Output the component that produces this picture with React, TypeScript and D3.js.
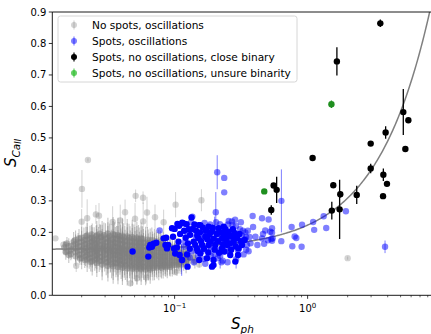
import React from "react";
import * as d3 from "d3";

type P = [number, number, number];

// Gray: no spots, oscillations (dense cloud) [Sph, SCaII, err]
const GRAY_CLOUD: P[] = [
  [0.0148,0.152,0.02],[0.0152,0.138,0.025],[0.0155,0.165,0.02],
  [0.0168,0.146,0.03],[0.0171,0.158,0.025],[0.0166,0.131,0.02],[0.0174,0.171,0.03],
  [0.0186,0.142,0.03],[0.0189,0.155,0.035],[0.0192,0.128,0.025],[0.0188,0.168,0.03],[0.0194,0.117,0.02],[0.0191,0.181,0.03],
  [0.0206,0.149,0.035],[0.0209,0.136,0.04],[0.0212,0.162,0.03],[0.0214,0.123,0.03],[0.0208,0.175,0.04],[0.0211,0.112,0.025],[0.0215,0.188,0.03],
  [0.0226,0.144,0.04],[0.0229,0.157,0.035],[0.0232,0.131,0.04],[0.0235,0.169,0.03],[0.0228,0.119,0.035],[0.0231,0.181,0.04],[0.0234,0.106,0.03],[0.0237,0.193,0.03],
  [0.0246,0.151,0.04],[0.0249,0.139,0.045],[0.0252,0.163,0.035],[0.0255,0.126,0.04],[0.0248,0.176,0.04],[0.0251,0.113,0.035],[0.0257,0.187,0.035],[0.0254,0.145,0.03],
  [0.0266,0.147,0.045],[0.0269,0.134,0.04],[0.0272,0.159,0.04],[0.0275,0.121,0.04],[0.0268,0.172,0.045],[0.0271,0.109,0.035],[0.0277,0.184,0.04],[0.0274,0.196,0.03],
  [0.0292,0.142,0.05],[0.0296,0.155,0.045],[0.0300,0.129,0.045],[0.0304,0.167,0.04],[0.0298,0.116,0.04],[0.0302,0.179,0.05],[0.0306,0.104,0.04],[0.0294,0.191,0.04],[0.0299,0.148,0.03],
  [0.0322,0.138,0.05],[0.0326,0.151,0.045],[0.0330,0.125,0.05],[0.0334,0.163,0.045],[0.0328,0.112,0.04],[0.0332,0.176,0.05],[0.0336,0.099,0.045],[0.0324,0.188,0.04],[0.0331,0.144,0.035],
  [0.0352,0.141,0.05],[0.0356,0.128,0.055],[0.0360,0.154,0.045],[0.0364,0.115,0.05],[0.0358,0.167,0.05],[0.0362,0.102,0.045],[0.0366,0.180,0.04],[0.0354,0.192,0.04],[0.0361,0.134,0.04],
  [0.0382,0.136,0.055],[0.0386,0.149,0.05],[0.0390,0.123,0.05],[0.0394,0.162,0.05],[0.0388,0.110,0.045],[0.0392,0.175,0.05],[0.0396,0.097,0.045],[0.0384,0.187,0.045],[0.0391,0.142,0.04],
  [0.0412,0.132,0.055],[0.0416,0.145,0.05],[0.0420,0.119,0.055],[0.0424,0.158,0.05],[0.0418,0.106,0.05],[0.0422,0.171,0.05],[0.0426,0.094,0.045],[0.0414,0.184,0.045],[0.0421,0.138,0.04],
  [0.0452,0.130,0.055],[0.0456,0.143,0.05],[0.0460,0.117,0.055],[0.0464,0.156,0.05],[0.0458,0.104,0.05],[0.0462,0.169,0.05],[0.0466,0.092,0.045],[0.0454,0.182,0.045],[0.0461,0.124,0.04],
  [0.0492,0.128,0.055],[0.0496,0.141,0.05],[0.0500,0.115,0.055],[0.0504,0.154,0.05],[0.0498,0.102,0.05],[0.0502,0.167,0.05],[0.0506,0.090,0.045],[0.0494,0.180,0.045],[0.0501,0.135,0.04],
  [0.0532,0.126,0.05],[0.0536,0.139,0.05],[0.0540,0.113,0.05],[0.0544,0.152,0.05],[0.0538,0.100,0.045],[0.0542,0.165,0.05],[0.0546,0.088,0.04],[0.0534,0.178,0.045],[0.0541,0.131,0.04],
  [0.0572,0.127,0.05],[0.0576,0.140,0.05],[0.0580,0.114,0.05],[0.0584,0.153,0.045],[0.0578,0.101,0.045],[0.0582,0.166,0.045],[0.0586,0.089,0.04],[0.0574,0.179,0.04],[0.0581,0.121,0.04],
  [0.0622,0.125,0.05],[0.0626,0.138,0.045],[0.0630,0.112,0.05],[0.0634,0.151,0.045],[0.0628,0.099,0.045],[0.0632,0.164,0.045],[0.0636,0.087,0.04],[0.0624,0.177,0.04],[0.0631,0.132,0.035],
  [0.0672,0.124,0.045],[0.0676,0.137,0.045],[0.0680,0.111,0.045],[0.0684,0.150,0.045],[0.0678,0.098,0.04],[0.0682,0.163,0.04],[0.0686,0.087,0.04],[0.0674,0.175,0.04],[0.0681,0.129,0.035],
  [0.0722,0.123,0.045],[0.0726,0.136,0.045],[0.0730,0.110,0.045],[0.0734,0.149,0.04],[0.0728,0.098,0.04],[0.0732,0.161,0.04],[0.0736,0.088,0.035],[0.0724,0.172,0.035],
  [0.0782,0.122,0.045],[0.0786,0.135,0.04],[0.0790,0.109,0.04],[0.0794,0.147,0.04],[0.0788,0.097,0.04],[0.0792,0.159,0.035],[0.0796,0.088,0.035],[0.0784,0.170,0.035],
  [0.0842,0.121,0.04],[0.0846,0.134,0.04],[0.0850,0.108,0.04],[0.0854,0.146,0.035],[0.0848,0.097,0.035],[0.0852,0.157,0.035],[0.0856,0.089,0.03],
  [0.0912,0.120,0.04],[0.0916,0.133,0.035],[0.0920,0.107,0.04],[0.0924,0.144,0.035],[0.0918,0.097,0.035],[0.0922,0.155,0.03],[0.0926,0.090,0.03],
  [0.0992,0.119,0.035],[0.0996,0.131,0.035],[0.1000,0.107,0.035],[0.1004,0.142,0.03],[0.0998,0.098,0.03],[0.1002,0.152,0.03],
  [0.1072,0.118,0.035],[0.1076,0.129,0.03],[0.1080,0.107,0.03],[0.1084,0.140,0.03],[0.1078,0.099,0.03],
  [0.1162,0.118,0.03],[0.1166,0.128,0.03],[0.1170,0.108,0.03],[0.1174,0.138,0.025],
  [0.1262,0.117,0.03],[0.1266,0.127,0.025],[0.1270,0.108,0.025],
  [0.138,0.120,0.025],[0.142,0.110,0.025],
];

// Second layer of the gray cloud: [Sph, SCaII values, err]
const GRAY_CLOUD_COLS: [number, number[], number][] = [
  [0.0160,[0.141,0.156,0.128],0.025],
  [0.0180,[0.137,0.150,0.163,0.124,0.176],0.03],
  [0.0200,[0.131,0.144,0.157,0.118,0.170,0.183],0.035],
  [0.0220,[0.128,0.138,0.151,0.164,0.114,0.177,0.190],0.04],
  [0.0240,[0.120,0.133,0.146,0.158,0.171,0.108,0.183],0.045],
  [0.0260,[0.116,0.128,0.141,0.153,0.166,0.179,0.103,0.191],0.045],
  [0.0285,[0.110,0.123,0.136,0.149,0.161,0.174,0.186,0.098],0.05],
  [0.0315,[0.106,0.119,0.132,0.145,0.157,0.170,0.182,0.094,0.196],0.05],
  [0.0345,[0.104,0.117,0.130,0.143,0.155,0.168,0.181,0.092,0.194],0.055],
  [0.0375,[0.102,0.114,0.127,0.140,0.152,0.165,0.178,0.090,0.191],0.055],
  [0.0405,[0.100,0.112,0.125,0.138,0.150,0.163,0.176,0.088,0.189],0.055],
  [0.0440,[0.098,0.110,0.123,0.136,0.148,0.161,0.174,0.086,0.187],0.055],
  [0.0480,[0.096,0.108,0.121,0.134,0.146,0.159,0.172,0.085,0.185],0.055],
  [0.0520,[0.095,0.107,0.120,0.132,0.145,0.158,0.170,0.084,0.183],0.05],
  [0.0560,[0.094,0.106,0.119,0.131,0.144,0.157,0.169,0.083,0.181],0.05],
  [0.0605,[0.093,0.105,0.118,0.130,0.143,0.156,0.168,0.082],0.05],
  [0.0655,[0.093,0.104,0.117,0.129,0.142,0.155,0.167,0.082],0.045],
  [0.0705,[0.093,0.104,0.116,0.128,0.141,0.154,0.165],0.045],
  [0.0760,[0.093,0.103,0.115,0.127,0.140,0.152,0.163],0.045],
  [0.0820,[0.093,0.103,0.114,0.126,0.139,0.151,0.162],0.04],
  [0.0880,[0.094,0.103,0.114,0.125,0.138,0.149],0.04],
  [0.0960,[0.095,0.103,0.113,0.124,0.136,0.147],0.035],
  [0.1040,[0.096,0.104,0.113,0.124,0.135,0.146],0.035],
  [0.1120,[0.098,0.105,0.113,0.123,0.133],0.03],
  [0.1220,[0.100,0.112,0.122,0.132],0.03],
];

// Gray outliers
const GRAY_OUT: P[] = [
  [0.0223,0.430,0.005],[0.0201,0.338,0.06],[0.0509,0.316,0.02],[0.0579,0.310,0.02],
  [0.1017,0.288,0.04],[0.159,0.302,0.035],[0.022,0.245,0.06],[0.020,0.234,0.04],
  [0.0256,0.257,0.03],[0.027,0.253,0.04],[0.0424,0.264,0.04],[0.0504,0.243,0.05],
  [0.058,0.235,0.06],[0.062,0.263,0.05],[0.0712,0.248,0.04],[0.0827,0.232,0.04],
  [0.0342,0.233,0.05],[0.039,0.238,0.05],[0.0182,0.094,0.02],[0.0152,0.160,0.01],
  [0.0152,0.137,0.01],[0.0465,0.038,0.01],[0.0522,0.054,0.02],[0.0612,0.057,0.02],
  [0.153,0.098,0.01],[0.101,0.074,0.01],[0.0127,0.181,0],[0.0146,0.161,0.01],
  [2.0,0.118,0.005],
];

// Blue: spots, oscillations (translucent)
const BLUE_LIGHT: P[] = [
  [0.0771,0.206,0],[0.209,0.391,0.054],[0.236,0.373,0],[0.236,0.327,0],[0.204,0.264,0.064],
  [0.136,0.250,0],[0.386,0.252,0],[0.454,0.245,0],[0.509,0.241,0],[0.389,0.217,0],
  [0.480,0.206,0],[0.540,0.213,0],[0.366,0.185,0],[0.405,0.186,0],[0.454,0.181,0],
  [0.504,0.175,0],[0.546,0.181,0],[0.419,0.160,0],[0.471,0.164,0],[0.255,0.236,0],
  [0.272,0.223,0],[0.289,0.220,0],[0.635,0.300,0.1],[0.908,0.224,0],[1.10,0.233,0],
  [1.32,0.251,0],[1.94,0.267,0],[0.758,0.217,0],[1.12,0.208,0],[1.38,0.214,0],
  [0.799,0.187,0],[0.822,0.182,0],[0.767,0.156,0],[0.901,0.154,0],[0.634,0.172,0],
  [3.82,0.154,0.02],[0.540,0.199,0],[0.540,0.173,0],[0.338,0.178,0],[0.462,0.195,0],
  [0.524,0.202,0],[0.533,0.179,0],[0.113,0.112,0.05],
  [0.160,0.190,0.02],[0.175,0.200,0],[0.190,0.175,0.03],[0.210,0.185,0],[0.220,0.170,0.02],
  [0.230,0.200,0],[0.250,0.175,0],[0.260,0.155,0.03],[0.280,0.190,0],[0.300,0.170,0],
  [0.320,0.190,0],[0.340,0.200,0],[0.310,0.210,0],[0.270,0.235,0],[0.200,0.210,0.04],
  [0.185,0.225,0],[0.165,0.205,0],[0.145,0.185,0],[0.120,0.170,0],[0.125,0.190,0.03],
  [0.118,0.155,0],[0.135,0.140,0],[0.160,0.140,0],[0.180,0.140,0.03],[0.200,0.130,0],
  [0.220,0.125,0.04],[0.240,0.140,0],[0.260,0.140,0],[0.300,0.145,0],[0.350,0.160,0],
  [0.360,0.140,0],[0.330,0.130,0],[0.290,0.115,0.03],[0.250,0.105,0],[0.230,0.110,0],
  [0.170,0.100,0],[0.150,0.125,0],[0.210,0.145,0],[0.190,0.155,0],[0.240,0.160,0],
  [0.355,0.205,0],[0.372,0.165,0],[0.315,0.232,0],[0.285,0.240,0],[0.345,0.145,0],
  [0.133,0.232,0],[0.168,0.230,0],[0.205,0.232,0],[0.219,0.226,0],[0.252,0.225,0],
  [0.130,0.120,0],[0.140,0.105,0],[0.165,0.115,0],[0.210,0.118,0],[0.225,0.105,0],
  [0.188,0.125,0],[0.345,0.185,0],[0.326,0.205,0],
];

// Blue: spots, oscillations (opaque)
const BLUE_SOLID: P[] = [
  [0.0483,0.139,0],[0.0634,0.123,0],[0.0656,0.160,0],[0.0695,0.164,0],[0.0728,0.167,0],
  [0.0675,0.154,0],[0.0645,0.152,0],[0.0827,0.181,0],[0.0864,0.183,0],[0.0894,0.160,0],
  [0.0853,0.160,0],[0.0876,0.149,0],[0.0956,0.213,0],[0.0973,0.186,0],[0.099,0.149,0],
  [0.101,0.133,0],[0.109,0.128,0],[0.114,0.112,0],[0.124,0.130,0],[0.125,0.091,0],
  [0.105,0.227,0],[0.108,0.221,0],[0.116,0.229,0],[0.123,0.226,0],[0.134,0.247,0],
  [0.128,0.210,0],[0.131,0.192,0],[0.139,0.170,0],[0.143,0.160,0],[0.149,0.141,0],
  [0.153,0.112,0],[0.114,0.231,0],[0.100,0.211,0],[0.152,0.223,0],[0.137,0.211,0],
  [0.156,0.223,0],[0.180,0.218,0],[0.151,0.181,0],[0.170,0.186,0],[0.191,0.202,0],
  [0.214,0.213,0],[0.234,0.218,0],[0.240,0.192,0],[0.255,0.202,0],[0.270,0.186,0],
  [0.278,0.170,0],[0.248,0.160,0],[0.227,0.149,0],[0.202,0.160,0],[0.180,0.160,0],
  [0.161,0.160,0],[0.147,0.149,0],[0.156,0.133,0],[0.175,0.118,0],[0.196,0.112,0],
  [0.196,0.096,0],[0.191,0.091,0],[0.262,0.128,0],[0.300,0.128,0],[0.286,0.107,0],
  [0.303,0.149,0],[0.321,0.160,0],[0.336,0.176,0],
  [0.118,0.205,0],[0.121,0.183,0],[0.126,0.165,0],[0.130,0.148,0],
  [0.141,0.225,0],[0.145,0.205,0],[0.148,0.190,0],[0.155,0.200,0],[0.158,0.172,0],
  [0.163,0.215,0],[0.166,0.148,0],[0.172,0.205,0],[0.176,0.178,0],
  [0.179,0.136,0],[0.183,0.192,0],[0.186,0.171,0],[0.193,0.215,0],
  [0.197,0.180,0],[0.200,0.145,0],[0.208,0.195,0],[0.212,0.172,0],
  [0.216,0.135,0],[0.224,0.200,0],[0.228,0.182,0],[0.232,0.162,0],
  [0.236,0.139,0],[0.241,0.210,0],[0.245,0.176,0],[0.258,0.190,0],
  [0.262,0.165,0],[0.266,0.145,0],[0.274,0.210,0],[0.282,0.198,0],[0.288,0.155,0],
  [0.294,0.182,0],[0.307,0.195,0],[0.315,0.172,0],
  [0.110,0.195,0],[0.107,0.170,0],[0.104,0.152,0],
];

// Black: spots, no oscillations, close binary
const BLACK: P[] = [
  [3.52,0.864,0.012],[1.66,0.743,0.045],[5.24,0.582,0.073],[5.72,0.556,0.005],
  [3.86,0.517,0.02],[2.98,0.482,0.005],[5.43,0.465,0.005],[1.09,0.436,0.005],
  [2.98,0.403,0.015],[3.71,0.383,0.02],[3.95,0.354,0.005],[3.69,0.315,0.005],
  [1.56,0.350,0.01],[1.76,0.321,0.01],[1.74,0.273,0.094],[1.52,0.269,0.028],
  [2.34,0.319,0.029],[0.533,0.271,0.015],[0.555,0.349,0.008],[0.585,0.335,0.042],
];

// Green: spots, no oscillations, unsure binarity
const GREEN: P[] = [[1.51,0.607,0.012],[0.472,0.330,0]];

const LEGEND_LABELS = [
  "No spots, oscillations",
  "Spots, oscillations",
  "Spots, no oscillations, close binary",
  "Spots, no oscillations, unsure binarity",
];

const Y_TICKS = [0, 0.1, 0.2, 0.3, 0.4, 0.5, 0.6, 0.7, 0.8, 0.9];
const X_MAJOR = [0.1, 1];
const X_MAJOR_EXP = ["\u22121", "0"];
const X_MINOR = [0.02,0.03,0.04,0.05,0.06,0.07,0.08,0.09,0.2,0.3,0.4,0.5,0.6,0.7,0.8,0.9,2,3,4,5,6,7,8,9];

// fit: S = c + a * Sph^p
const FIT_C = 0.146, FIT_A = 0.077, FIT_P = 1.08;

const W = 431, H = 334;
const L = 52.3, T = 12, B = 295.3;
const DECADE = 133;
const XMIN = 0.01203;

export default function App() {
  const x = d3.scaleLog().domain([XMIN, 10]).range([L, L + DECADE * (1 - Math.log10(XMIN))]);
  const y = d3.scaleLinear().domain([0, 0.9]).range([B, T]);
  const R = x.range()[1];

  const grayB: P[] = GRAY_CLOUD_COLS.flatMap(([gx, ys, e]) => ys.map((v) => [gx, v, e] as P));

  const fitPts: [number, number][] = d3.range(0, 301).map((i) => {
    const lx = Math.log10(XMIN) + (i / 300) * (1 - Math.log10(XMIN));
    const v = Math.pow(10, lx);
    return [v, FIT_C + FIT_A * Math.pow(v, FIT_P)];
  });
  const line = d3.line<[number, number]>().x((d) => x(d[0])).y((d) => y(d[1]));

  const drawSet = (data: P[], color: string, op: number, eop: number, r: number, lw: number, key: string) => (
    <g key={key}>
      {data.map((d, i) => (
        <g key={i}>
          {d[2] > 0 && (
            <line x1={x(d[0])} x2={x(d[0])} y1={y(d[1] - d[2])} y2={y(d[1] + d[2])}
              stroke={color} strokeOpacity={eop} strokeWidth={lw} />
          )}
          <circle cx={x(d[0])} cy={y(d[1])} r={r} fill={color} fillOpacity={op} />
        </g>
      ))}
    </g>
  );

  const legendColors = [
    { c: "#808080", o: 0.35 },
    { c: "#0000ff", o: 0.5 },
    { c: "#000000", o: 1 },
    { c: "#22bb22", o: 0.7 },
  ];

  return (
    <svg width={W} height={H} style={{ position: "absolute", left: 0, top: 0, background: "#fff" }}
      fontFamily="DejaVu Sans">
      <defs>
        <clipPath id="plotclip">
          <rect x={L} y={T} width={R - L} height={B - T} />
        </clipPath>
      </defs>
      <g clipPath="url(#plotclip)">
        {drawSet(GRAY_CLOUD, "#808080", 0.5, 0.45, 3.2, 1.1, "gc")}
        {drawSet(grayB, "#808080", 0.5, 0.45, 3.2, 1.1, "gb")}
        {drawSet(GRAY_OUT, "#808080", 0.35, 0.35, 3.2, 1, "go")}
        <path d={line(fitPts) || ""} fill="none" stroke="#808080" strokeWidth={1.5} />
        {drawSet(BLUE_LIGHT, "#0000ff", 0.5, 0.5, 3.2, 1, "bl")}
        {drawSet(BLUE_SOLID, "#0000ff", 1, 1, 3.2, 1, "bs")}
        {drawSet(BLACK, "#000000", 1, 1, 3.2, 1.3, "k")}
        {drawSet(GREEN, "#1f8f1f", 1, 1, 3.2, 1.3, "g")}
      </g>
      {/* spines */}
      <line x1={L} x2={L} y1={T} y2={B} stroke="#000" strokeWidth={0.9} />
      <line x1={L} x2={R} y1={B} y2={B} stroke="#000" strokeWidth={0.9} />
      <line x1={L} x2={R} y1={T} y2={T} stroke="#000" strokeWidth={0.9} />
      {/* y ticks */}
      {Y_TICKS.map((t) => (
        <g key={t}>
          <line x1={L - 3.5} x2={L} y1={y(t)} y2={y(t)} stroke="#000" strokeWidth={0.8} />
          <text x={L - 6} y={y(t)} dy="0.35em" textAnchor="end" fontSize={10} fill="#000">{t.toFixed(1)}</text>
        </g>
      ))}
      {/* x ticks */}
      {X_MINOR.map((t) => (
        <line key={t} x1={x(t)} x2={x(t)} y1={B} y2={B + 2} stroke="#000" strokeWidth={0.6} />
      ))}
      {X_MAJOR.map((t, i) => (
        <g key={t}>
          <line x1={x(t)} x2={x(t)} y1={B} y2={B + 3.5} stroke="#000" strokeWidth={0.8} />
          <text x={x(t)} y={312} textAnchor="middle" fontSize={10} fill="#000">
            10<tspan dy={-4} fontSize={7}>{X_MAJOR_EXP[i]}</tspan>
          </text>
        </g>
      ))}
      {/* axis labels */}
      <text x={231} y={329} fontSize={15} fontStyle="italic" fill="#000">
        S<tspan dy={3.5} fontSize={10.5}>ph</tspan>
      </text>
      <text transform="translate(16,167) rotate(-90)" fontSize={15} fontStyle="italic" fill="#000">
        S<tspan dy={3.5} fontSize={10.5}>Ca</tspan><tspan fontSize={8} dy={1.5}>II</tspan>
      </text>
      {/* legend */}
      <rect x={58} y={16} width={239} height={66} rx={2.5} fill="#fff" fillOpacity={0.8} stroke="#cccccc" strokeWidth={0.8} />
      {LEGEND_LABELS.map((lab, i) => {
        const cy = 25 + i * 16;
        const lc = legendColors[i];
        return (
          <g key={lab}>
            <line x1={74} x2={74} y1={cy - 4.5} y2={cy + 4.5} stroke={lc.c} strokeOpacity={lc.o} strokeWidth={1.2} />
            <circle cx={74} cy={cy} r={3} fill={lc.c} fillOpacity={lc.o} />
            <text x={92} y={cy} dy="0.35em" fontSize={10.6} fill="#000">{lab}</text>
          </g>
        );
      })}
    </svg>
  );
}
